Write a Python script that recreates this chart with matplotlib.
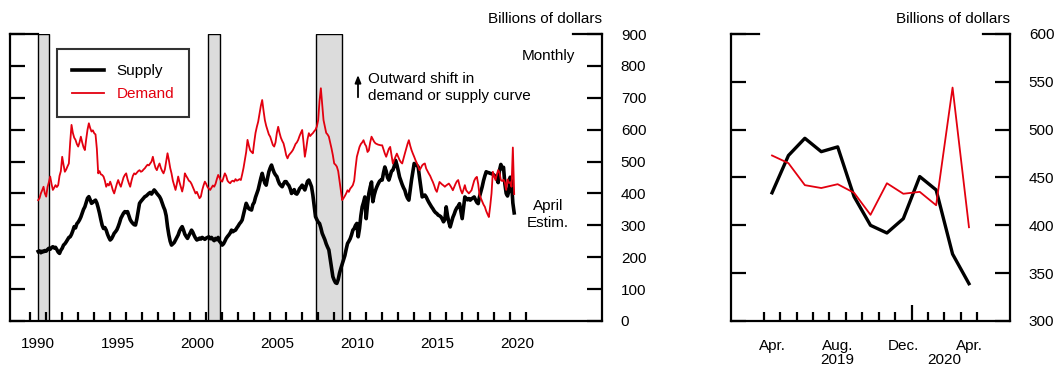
import numpy as np
import matplotlib
matplotlib.use("Agg")
import matplotlib.pyplot as plt
from matplotlib import font_manager
from matplotlib.transforms import blended_transform_factory

# ---------------- data ----------------
start_year = 1990.5  # first observation: July 1990
supply_by_year = [
    [218, 220, 214, 219, 217, 221],
    [219, 224, 228, 225, 230, 233, 229, 231, 224, 216, 212, 222],
    [228, 238, 242, 248, 255, 262, 264, 272, 283, 296, 292, 305],
    [310, 317, 326, 338, 350, 358, 372, 385, 390, 380, 369, 372],
    [376, 379, 370, 355, 338, 318, 300, 290, 293, 285, 272, 262],
    [254, 258, 266, 275, 280, 286, 296, 308, 322, 330, 338, 343],
    [340, 343, 330, 318, 311, 306, 302, 301, 320, 345, 369, 375],
    [380, 385, 390, 392, 396, 400, 403, 398, 405, 411, 406, 400],
    [395, 390, 382, 370, 358, 348, 330, 296, 270, 250, 238, 242],
    [246, 254, 262, 270, 282, 290, 296, 285, 272, 265, 259, 268],
    [276, 285, 278, 268, 260, 254, 256, 260, 257, 262, 259, 256],
    [260, 262, 264, 258, 262, 256, 252, 259, 255, 262, 250, 245],
    [238, 242, 250, 259, 265, 270, 276, 285, 280, 283, 285, 292],
    [298, 305, 310, 317, 335, 352, 369, 360, 352, 350, 348, 365],
    [372, 388, 400, 412, 430, 448, 463, 446, 432, 426, 448, 468],
    [480, 489, 476, 465, 458, 453, 440, 430, 425, 421, 430, 437],
    [437, 430, 425, 415, 400, 405, 412, 400, 398, 405, 415, 420],
    [426, 418, 411, 425, 438, 442, 432, 421, 395, 360, 327, 318],
    [310, 306, 292, 275, 265, 255, 242, 232, 223, 195, 165, 139],
    [128, 120, 118, 130, 150, 165, 178, 190, 205, 225, 243, 250],
    [258, 270, 285, 290, 300, 306, 264, 290, 330, 358, 372, 389],
    [321, 365, 400, 420, 436, 374, 395, 410, 421, 430, 438, 442],
    [442, 465, 483, 470, 450, 442, 455, 470, 473, 485, 504, 490],
    [472, 452, 440, 428, 418, 410, 395, 385, 379, 410, 442, 468],
    [494, 490, 488, 483, 450, 420, 389, 392, 395, 389, 380, 372],
    [365, 358, 352, 345, 340, 337, 332, 330, 327, 320, 311, 318],
    [358, 330, 310, 295, 310, 325, 335, 347, 355, 360, 368, 345],
    [321, 355, 389, 385, 380, 384, 379, 383, 386, 389, 380, 372],
    [368, 390, 405, 421, 440, 455, 468, 466, 465, 463, 462, 460],
    [457, 452, 445],
]
demand_by_year = [
    [379, 385, 400, 410, 421, 400],
    [390, 420, 435, 453, 430, 411, 418, 426, 420, 426, 455, 470],
    [515, 490, 468, 475, 485, 494, 560, 615, 590, 575, 568, 555],
    [547, 560, 578, 560, 545, 536, 570, 600, 620, 605, 594, 598],
    [589, 585, 540, 463, 470, 460, 458, 453, 440, 421, 430, 425],
    [437, 425, 410, 400, 415, 430, 442, 430, 421, 435, 450, 458],
    [463, 445, 432, 421, 440, 455, 463, 460, 465, 470, 473, 468],
    [470, 475, 479, 485, 490, 488, 494, 500, 515, 495, 480, 473],
    [485, 494, 480, 470, 463, 475, 500, 526, 505, 480, 463, 440],
    [425, 411, 430, 453, 435, 420, 406, 425, 463, 455, 448, 440],
    [437, 430, 420, 410, 400, 405, 395, 385, 390, 410, 425, 437],
    [430, 420, 415, 411, 418, 425, 421, 430, 445, 458, 450, 440],
    [437, 450, 463, 455, 440, 435, 432, 438, 440, 437, 445, 440],
    [442, 445, 442, 460, 480, 505, 530, 568, 550, 535, 530, 526],
    [560, 590, 609, 625, 650, 675, 693, 660, 630, 612, 598, 585],
    [578, 565, 552, 547, 560, 590, 609, 590, 575, 565, 557, 540],
    [520, 510, 520, 525, 530, 536, 545, 555, 560, 568, 580, 590],
    [599, 560, 515, 540, 570, 589, 580, 585, 589, 595, 600, 610],
    [630, 690, 730, 680, 630, 610, 590, 585, 578, 560, 541, 520],
    [494, 490, 484, 470, 440, 410, 379, 385, 392, 400, 410, 405],
    [415, 420, 426, 440, 480, 515, 530, 546, 555, 560, 567, 555],
    [548, 530, 535, 560, 578, 570, 562, 557, 555, 553, 552, 551],
    [551, 538, 525, 515, 528, 540, 546, 520, 494, 505, 515, 525],
    [515, 505, 498, 494, 510, 525, 540, 555, 567, 550, 536, 525],
    [515, 504, 495, 485, 473, 480, 488, 492, 494, 478, 470, 462],
    [455, 445, 436, 425, 412, 405, 420, 436, 432, 428, 425, 421],
    [425, 428, 431, 425, 418, 410, 420, 430, 438, 442, 425, 410],
    [400, 412, 426, 410, 405, 400, 405, 410, 425, 440, 448, 452],
    [430, 395, 385, 375, 365, 358, 345, 335, 326, 360, 400, 468],
    [455, 442, 460],
]
# April 2019 - April 2020 (shown in both panels)
recent_months = ["Apr.", "May", "Jun.", "Jul.", "Aug.", "Sep.", "Oct.", "Nov.",
                 "Dec.", "Jan.", "Feb.", "Mar.", "Apr."]
supply_recent = [434, 473, 491, 477, 482, 430, 400, 392, 407, 451, 437, 370, 339]
demand_recent = [473, 465, 442, 439, 443, 434, 411, 444, 433, 435, 421, 544, 398]

recessions = [(1990.54, 1991.21), (2001.17, 2001.88), (2007.92, 2009.50)]
year_labels = [1990, 1995, 2000, 2005, 2010, 2015, 2020]
left_yticks = [0, 100, 200, 300, 400, 500, 600, 700, 800, 900]
right_yticks = [300, 350, 400, 450, 500, 550, 600]

# ---------------- build series ----------------
supply = [v for yr in supply_by_year for v in yr] + supply_recent
demand = [v for yr in demand_by_year for v in yr] + demand_recent
t = start_year + (np.arange(len(supply)) + 0.5) / 12.0

# ---------------- style ----------------
avail = {f.name for f in font_manager.fontManager.ttflist}
FONT = "Liberation Sans" if "Liberation Sans" in avail else "DejaVu Sans"
plt.rcParams["font.family"] = [FONT, "DejaVu Sans"]
FS = 11
RED = "#e3000f"
SPW = 1.6

fig = plt.figure(figsize=(10.58, 3.68), dpi=100)
W, H = 1058, 368


def ax_rect(x0, x1, y0, y1):
    return [x0 / W, 1 - y1 / H, (x1 - x0) / W, (y1 - y0) / H]


# ---------------- left panel ----------------
ax = fig.add_axes(ax_rect(10, 602, 34, 321))
ax.set_xlim(1988.78, 2025.78)
ax.set_ylim(0, 900)
for s, e in recessions:
    ax.axvspan(s, e, facecolor="#dcdcdc", edgecolor="black", lw=1.0, zorder=1)
ax.plot(t, supply, color="black", lw=2.6, zorder=3, label="Supply",
        solid_joinstyle="round")
ax.plot(t, demand, color=RED, lw=1.3, zorder=4, label="Demand")

for sp in ["left", "right", "bottom"]:
    ax.spines[sp].set_linewidth(SPW)
ax.spines["top"].set_visible(False)
xl = ax.get_xlim()
frac0 = (recessions[0][0] - xl[0]) / (xl[1] - xl[0])
ax.axhline(900, xmin=0, xmax=frac0, color="black", lw=SPW, clip_on=False, zorder=5)
ax.axhline(900, xmin=0.951, xmax=1, color="black", lw=SPW, clip_on=False, zorder=5)

ax.set_yticks(left_yticks)
ax.tick_params(axis="y", which="major", left=True, right=True, labelleft=False,
               labelright=True, direction="in", length=10.5, width=SPW,
               pad=13.5, labelsize=FS)
ax.set_xticks(np.arange(1990, 2022))
ax.set_xticks([y + 0.5 for y in year_labels], minor=True)
ax.set_xticklabels([str(y) for y in year_labels], minor=True, fontsize=FS)
ax.tick_params(axis="x", which="major", direction="in", length=6.5, width=SPW,
               labelbottom=False)
ax.tick_params(axis="x", which="minor", length=0, pad=11.5)

leg = ax.legend(loc="upper left", bbox_to_anchor=(0.079, 0.948), frameon=True,
                fancybox=False, edgecolor="black", fontsize=FS, handlelength=2.1,
                handletextpad=0.8, borderpad=1.0, labelspacing=0.6,
                borderaxespad=0)
leg.get_frame().set_linewidth(1.5)
leg.get_texts()[1].set_color(RED)

ax.text(1.0, 1.027, "Billions of dollars", transform=ax.transAxes, ha="right",
        va="bottom", fontsize=FS)
ax.text(2024.1, 831, "Monthly", ha="right", va="center", fontsize=FS)
ax.annotate("", xy=(2010.53, 780), xytext=(2010.53, 693),
            arrowprops=dict(arrowstyle="-|>,head_width=0.18,head_length=0.45",
                            color="black", lw=1.3))
ax.text(2011.15, 732, "Outward shift in\ndemand or supply curve", ha="left",
        va="center", fontsize=FS, linespacing=1.3)
ax.text(2022.4, 334, "April\nEstim.", ha="center", va="center", fontsize=FS,
        linespacing=1.25)

# ---------------- right panel ----------------
ax2 = fig.add_axes(ax_rect(731, 1010, 34, 321))
xm = np.arange(len(supply_recent)) + 0.5
ax2.plot(xm, supply_recent, color="black", lw=2.4, zorder=3)
ax2.plot(xm, demand_recent, color=RED, lw=1.3, zorder=4)
ax2.set_xlim(-2, 15)
ax2.set_ylim(300, 600)
for sp in ["left", "right", "bottom"]:
    ax2.spines[sp].set_linewidth(SPW)
ax2.spines["top"].set_visible(False)
ax2.axhline(600, xmin=0, xmax=0.10, color="black", lw=SPW, clip_on=False)
ax2.axhline(600, xmin=0.903, xmax=1, color="black", lw=SPW, clip_on=False)
ax2.set_yticks(right_yticks)
ax2.tick_params(axis="y", which="major", left=True, right=True, labelleft=False,
                labelright=True, direction="in", length=10.5, width=SPW,
                pad=13.5, labelsize=FS)
ax2.set_xticks(np.arange(0, 14))
ax2.tick_params(axis="x", which="major", direction="in", length=6.5, width=SPW,
                labelbottom=False)
ax2.xaxis.get_major_ticks()[9].tick1line.set_markersize(11.5)
lab_idx = [0, 4, 8, 12]
ax2.set_xticks([i + 0.5 for i in lab_idx], minor=True)
ax2.set_xticklabels([recent_months[i] for i in lab_idx], minor=True, fontsize=FS)
ax2.tick_params(axis="x", which="minor", length=0, pad=13)
trb = blended_transform_factory(ax2.transData, ax2.transAxes)
ax2.text(4.5, -0.113, "2019", transform=trb, ha="center", va="top", fontsize=FS)
ax2.text(11.0, -0.113, "2020", transform=trb, ha="center", va="top", fontsize=FS)
ax2.text(1.0, 1.027, "Billions of dollars", transform=ax2.transAxes, ha="right",
         va="bottom", fontsize=FS)

fig.savefig("out.png", dpi=100)
